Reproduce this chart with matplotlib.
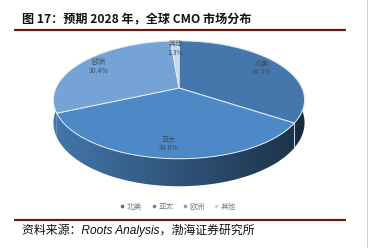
import numpy as np
import matplotlib
matplotlib.use("Agg")
import matplotlib.pyplot as plt
from matplotlib.patches import Polygon
from matplotlib.lines import Line2D

plt.rcParams['font.family'] = ['Noto Sans CJK SC', 'DejaVu Sans']

# Market share data
regions = ['北美', '亚太', '欧洲', '其他']
shares = [34.3, 34.0, 30.4, 1.3]
top_colors = ['#4576ac', '#4e89c7', '#76a3d6', '#c3d7ee']

title = '图 17：预期 2028 年，全球 CMO 市场分布'
source = '资料来源：Roots Analysis，渤海证券研究所'

W, H = 368, 248
fig = plt.figure(figsize=(W / 100, H / 100), dpi=100, facecolor='white')
ax = fig.add_axes([0, 0, 1, 1])
ax.set_xlim(0, W)
ax.set_ylim(H, 0)
ax.axis('off')

# Perspective disc geometry (pixel units)
AX_X, AX_Y = 179.0, 88.0   # projected centre of the disc
RX, RY = 123.0, 56.6       # horizontal / vertical radii before perspective
PERSP = 0.2                # perspective strength (back looks smaller)
DEPTH = 22.0               # disc thickness


def project(theta, r=1.0, z=0.0):
    s, c = np.sin(theta) * r, np.cos(theta) * r
    d = 1 + PERSP * s
    x = AX_X + RX * c / d
    y = AX_Y - (RY * s + z) / d
    return x, y


# slice boundaries, clockwise from 12 o'clock
fr = np.array(shares) / np.sum(shares)
bounds = np.radians(90 - 360 * np.concatenate([[0], np.cumsum(fr)]))

# side wall: one clipped gradient per slice, darker towards the right
wall_lo, wall_hi = np.radians(-190), np.radians(10)
x_left, x_right = AX_X - RX, AX_X + RX
gx = np.linspace(x_left - 5, x_right + 5, 300)
tt_x = np.clip((gx - x_left) / (x_right - x_left), 0, 1)
shade = 0.86 - 0.50 * tt_x
for i, (c0, c1) in enumerate(zip(bounds[:-1], bounds[1:])):
    # the slice runs from c1 up to c0 (clockwise); shift into the wall window
    lo, hi = c1, c0
    for shift in (0, 2 * np.pi, -2 * np.pi):
        a, b = max(lo + shift, wall_lo), min(hi + shift, wall_hi)
        if b <= a:
            continue
        th = np.linspace(a, b, 200)
        xt, yt = project(th)
        xb, yb = project(th[::-1], z=-DEPTH)
        poly = Polygon(list(zip(xt, yt)) + list(zip(xb, yb)), closed=True,
                       facecolor='none', edgecolor='none')
        ax.add_patch(poly)
        base = np.array(matplotlib.colors.to_rgb(top_colors[i]))
        if i == 2:
            base = np.array(matplotlib.colors.to_rgb(top_colors[1]))
        grad = np.clip(base[None, None, :] * shade[None, :, None], 0, 1)
        grad = np.repeat(grad, 2, axis=0)
        im = ax.imshow(grad, extent=(gx[0], gx[-1], 210, 40),
                       aspect='auto', interpolation='bilinear', zorder=1)
        im.set_clip_path(poly)

ax.set_xlim(0, W)
ax.set_ylim(H, 0)

# light seams on the wall at visible slice boundaries
for th in bounds[1:2]:
    xa, ya = project(th)
    xb, yb = project(th, z=-DEPTH)
    ax.plot([xa, xb], [ya, yb], color='#c9daec', lw=0.7, zorder=2)

# top faces
for i, (c0, c1) in enumerate(zip(bounds[:-1], bounds[1:])):
    tt = np.linspace(c0, c1, 200)
    xs, ys = project(tt)
    pts = [(AX_X, AX_Y)] + list(zip(xs, ys))
    ax.add_patch(Polygon(pts, closed=True, facecolor=top_colors[i],
                         edgecolor='#e2ecf7', linewidth=0.7, zorder=3))

# slice labels
for i, (c0, c1) in enumerate(zip(bounds[:-1], bounds[1:])):
    mid = 0.5 * (c0 + c1)
    lx, ly = project(mid, r=0.82)
    ax.text(lx, ly, f'{regions[i]}\n{shares[i]:.1f}%', ha='center',
            va='center', fontsize=5, color='#3f4b5e', linespacing=1.15,
            zorder=5)

# title and rules
ax.text(22, 20, title, fontsize=8.7, fontweight='bold', color='#111111',
        ha='left', va='center')
ax.plot([14, 346], [30, 30], color='#6e1616', lw=1.6, solid_capstyle='butt')
ax.plot([14, 346], [219.5, 219.5], color='#6e1616', lw=1.6,
        solid_capstyle='butt')
ax.plot([366.5, 366.5], [0, H], color='#cfcfcf', lw=0.8)

ax.text(22, 230.5, source, fontsize=8.6, style='italic', color='#111111',
        ha='left', va='center',
        family=['Liberation Sans', 'Noto Sans CJK SC', 'DejaVu Sans'])

# legend
handles = [Line2D([], [], marker='s', linestyle='none', markersize=2.0,
                  markerfacecolor=c, markeredgecolor=c) for c in top_colors]
ax.legend(handles, regions, loc='center', ncol=4, frameon=False,
          bbox_to_anchor=(178 / W, 1 - 207 / H), fontsize=5.5,
          labelcolor='#7a7a7a', handlelength=0.6, handletextpad=0.3,
          columnspacing=1.2, borderpad=0)

fig.savefig('out.png', dpi=100, facecolor='white')
